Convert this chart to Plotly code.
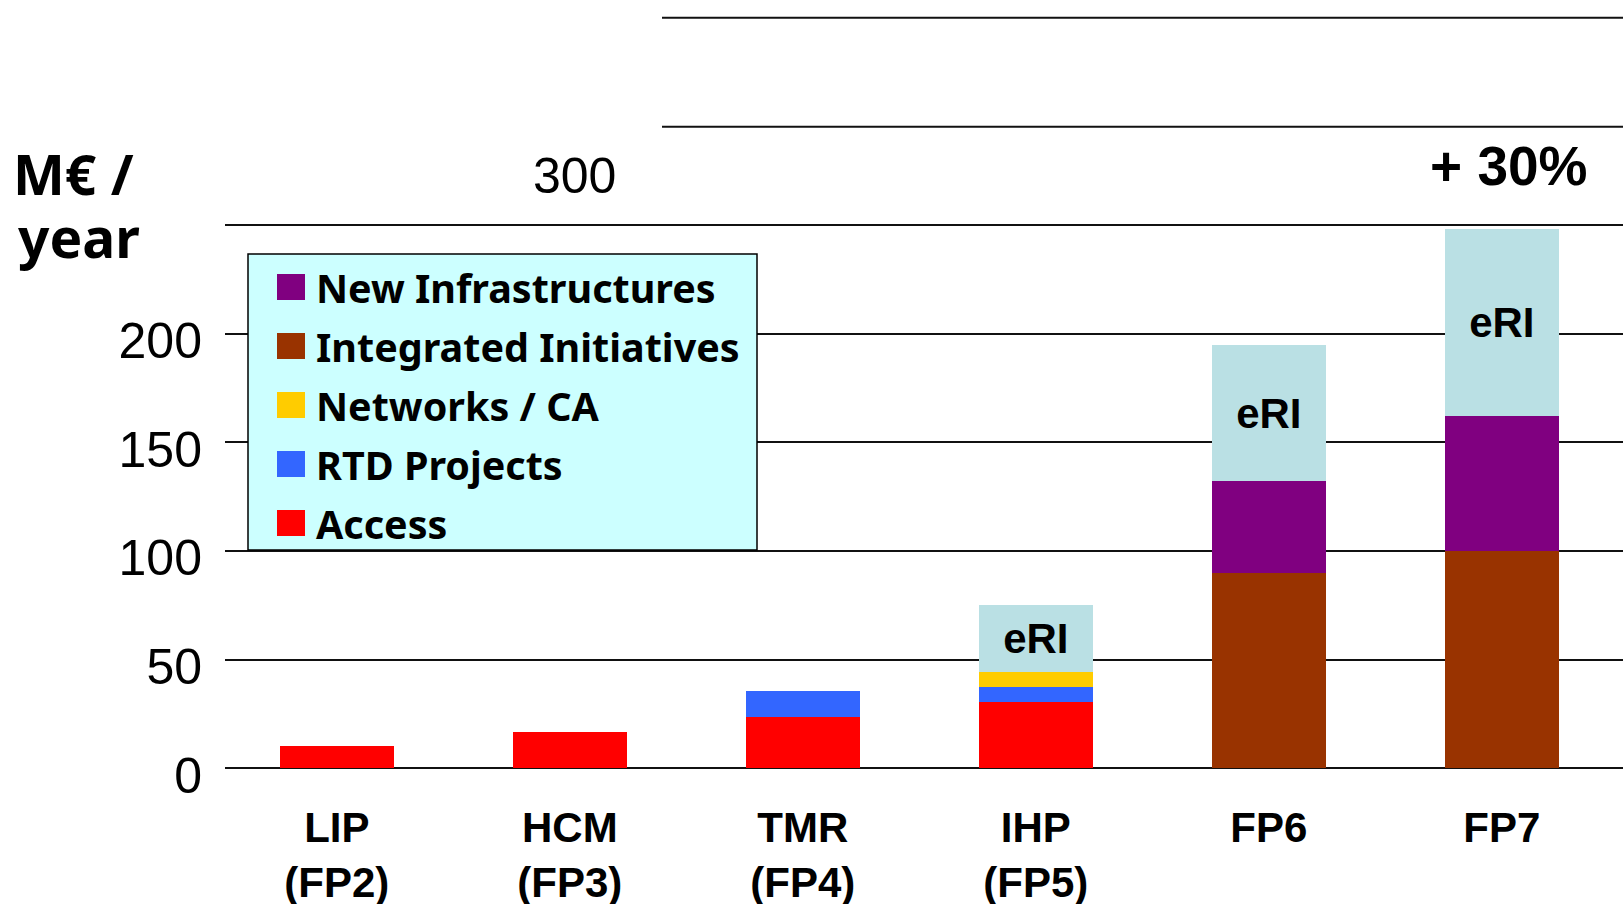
import plotly.graph_objects as go

# ---------------- data ----------------
categories = ["LIP<br>(FP2)", "HCM<br>(FP3)", "TMR<br>(FP4)", "IHP<br>(FP5)", "FP6", "FP7"]
access = [10, 16.5, 23.5, 30.5, None, None]
rtd_projects = [None, None, 12, 6.8, None, None]
networks_ca = [None, None, None, 7, None, None]
integrated_initiatives = [None, None, None, None, 90, 100]
new_infrastructures = [None, None, None, None, 42, 62]
eri = [None, None, None, 31, 63, 86]
eri_labels = ["" if v is None else "eRI" for v in eri]

y_tick_vals = [0, 50, 100, 150, 200, 250]
y_tick_text = ["0", "50", "100", "150", "200", ""]
upper_lines = [295.3, 345.5]   # the two loose rules at the top of the slide

legend_names = ["New Infrastructures", "Integrated Initiatives", "Networks / CA",
                "RTD Projects", "Access"]

# ---------------- styles ----------------
C_ACCESS = "#FF0000"
C_RTD = "#3366FF"
C_NET = "#FFCC00"
C_INT = "#993300"
C_NEW = "#800080"
C_ERI = "#BAE0E4"
legend_colors = [C_NEW, C_INT, C_NET, C_RTD, C_ACCESS]

W_FIG, H_FIG = 1623, 904
L, R, T, B = 225, 0, 0, 125
PW = W_FIG - L - R
PH = H_FIG - T - B


def px_x(px):
    return (px - L) / PW


def px_y(py):
    return (H_FIG - B - py) / PH


fig = go.Figure()
series = [
    ("Access", access, C_ACCESS),
    ("RTD Projects", rtd_projects, C_RTD),
    ("Networks / CA", networks_ca, C_NET),
    ("Integrated Initiatives", integrated_initiatives, C_INT),
    ("New Infrastructures", new_infrastructures, C_NEW),
]
for name, vals, col in series:
    fig.add_trace(go.Bar(x=categories, y=vals, name=name, marker_color=col,
                         marker_line_width=0, showlegend=False))

fig.add_trace(go.Bar(
    x=categories, y=eri, name="eRI", marker_color=C_ERI, marker_line_width=0,
    text=eri_labels, textposition="inside", insidetextanchor="middle",
    textangle=0, constraintext="none",
    textfont=dict(family="Liberation Sans, Arial", size=42, color="black", weight="bold"),
    showlegend=False))

shapes = []
for v in upper_lines:
    shapes.append(dict(type="line", xref="paper", yref="y", x0=px_x(662), x1=1,
                       y0=v, y1=v, line=dict(color="#111111", width=2), layer="below"))

# manual legend box
shapes.append(dict(type="rect", xref="paper", yref="paper",
                   x0=px_x(248), x1=px_x(757), y0=px_y(550), y1=px_y(254),
                   fillcolor="#CCFFFF", line=dict(color="black", width=1.5), layer="above"))
annotations = []
for i, (nm, col) in enumerate(zip(legend_names, legend_colors)):
    cy = 287 + i * 59
    shapes.append(dict(type="rect", xref="paper", yref="paper",
                       x0=px_x(277), x1=px_x(305), y0=px_y(cy + 13), y1=px_y(cy - 13),
                       fillcolor=col, line=dict(width=0), layer="above"))
    annotations.append(dict(xref="paper", yref="paper", x=px_x(314), y=px_y(cy + 1),
                            xanchor="left", yanchor="middle", showarrow=False, text=nm,
                            font=dict(family="Noto Sans", size=39.5, color="black", weight="bold")))

annotations += [
    dict(xref="paper", yref="paper", x=px_x(11), y=px_y(173), xanchor="left", yanchor="middle",
         showarrow=False, text="M€ /",
         font=dict(family="Noto Sans", size=55, color="black", weight="bold")),
    dict(xref="paper", yref="paper", x=px_x(16), y=px_y(237), xanchor="left", yanchor="middle",
         showarrow=False, text="year",
         font=dict(family="Noto Sans", size=55, color="black", weight="bold")),
    dict(xref="paper", yref="paper", x=px_x(574.5), y=px_y(176), xanchor="center", yanchor="middle",
         showarrow=False, text="300",
         font=dict(family="Liberation Sans, Arial", size=50, color="black")),
    dict(xref="paper", yref="paper", x=px_x(1508), y=px_y(166), xanchor="center", yanchor="middle",
         showarrow=False, text="+ 30%",
         font=dict(family="Liberation Sans, Arial", size=55, color="black", weight="bold")),
]

fig.update_layout(
    width=W_FIG, height=H_FIG,
    margin=dict(l=L, r=R, t=T, b=B, pad=0, autoexpand=False),
    barmode="stack", bargap=0.51,
    plot_bgcolor="white", paper_bgcolor="white",
    showlegend=False,
    shapes=shapes, annotations=annotations,
    xaxis=dict(type="category", range=[-0.48, 5.52], automargin=False, showgrid=False,
               zeroline=False, showline=False, ticks="",
               tickfont=dict(family="Liberation Sans, Arial", size=42, color="black", weight="bold"),
               ticklabelstandoff=20),
    yaxis=dict(range=[-5, (H_FIG - B - T) / 2.172 - 5], automargin=False,
               tickvals=y_tick_vals, ticktext=y_tick_text,
               showgrid=True, gridcolor="#111111", gridwidth=2, zeroline=False, showline=False,
               ticks="", ticklabelstandoff=22, ticklabelshift=7,
               tickfont=dict(family="Liberation Sans, Arial", size=50, color="black")),
)

fig.write_html("out.html", config={"displayModeBar": False},
               post_script="document.body.style.margin='0';document.body.style.overflow='hidden';")
